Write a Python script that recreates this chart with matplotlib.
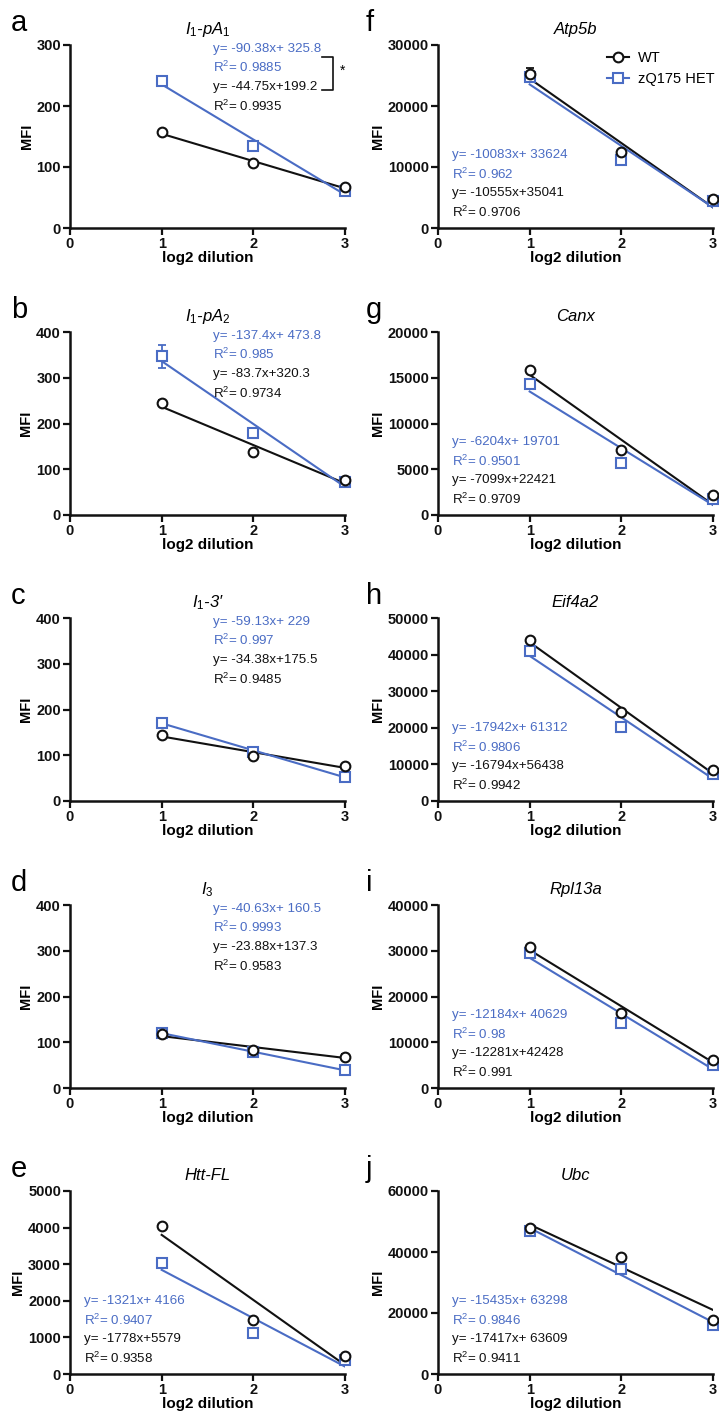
import matplotlib
matplotlib.use('Agg')
import matplotlib.pyplot as plt
from matplotlib.lines import Line2D
import numpy as np

plt.rcParams['font.family'] = ['Liberation Sans', 'DejaVu Sans']
plt.rcParams['mathtext.fontset'] = 'custom'
plt.rcParams['mathtext.rm'] = 'Liberation Sans'
plt.rcParams['mathtext.it'] = 'Liberation Sans:italic'
plt.rcParams['mathtext.bf'] = 'Liberation Sans:bold'

# ============================================
# DATA
# ============================================
dilution = [1, 2, 3]

letters = ['a', 'b', 'c', 'd', 'e', 'f', 'g', 'h', 'i', 'j']
genes = [r'$I_1$-$pA_1$', r'$I_1$-$pA_2$', r'$I_1$-3′', r'$I_3$', 'Htt-FL',
         'Atp5b', 'Canx', 'Eif4a2', 'Rpl13a', 'Ubc']

wt_mean = [[157, 106, 67], [245, 137, 77], [145, 98, 77], [117, 84, 68],
           [4050, 1480, 500], [25200, 12500, 4800], [15900, 7100, 2200],
           [44000, 24300, 8600], [30800, 16500, 6100], [47800, 38300, 17800]]
wt_err = [[4, 0, 0], [7, 0, 0], [0, 0, 3], [0, 0, 7],
          [0, 0, 0], [1000, 0, 0], [0, 0, 0],
          [0, 0, 0], [0, 0, 0], [0, 0, 0]]
het_mean = [[241, 134, 60], [347, 180, 72], [171, 108, 53], [120, 79, 40],
            [3030, 1130, 380], [24700, 11100, 4500], [14300, 5700, 1700],
            [41000, 20200, 7300], [29400, 14200, 5100], [46800, 34400, 16000]]
het_err = [[6, 4, 0], [25, 0, 0], [0, 0, 0], [0, 0, 0],
           [0, 0, 0], [0, 0, 0], [0, 0, 0],
           [0, 0, 0], [0, 0, 0], [0, 0, 0]]

# fitted lines as drawn (slope, intercept)
wt_slope = [-44.75, -83.7, -34.38, -23.88, -1778, -10555, -7099, -17942, -12281, -14000]
wt_icpt = [199.2, 320.3, 175.5, 137.3, 5579, 35041, 22421, 61312, 42428, 63000]
het_slope = [-90.38, -137.4, -59.13, -40.63, -1321, -10083, -6204, -16794, -12184, -15435]
het_icpt = [325.8, 473.8, 229, 160.5, 4166, 33624, 19701, 56438, 40629, 63298]

het_eq = ['y= -90.38x+ 325.8', 'y= -137.4x+ 473.8', 'y= -59.13x+ 229',
          'y= -40.63x+ 160.5', 'y= -1321x+ 4166', 'y= -10083x+ 33624',
          'y= -6204x+ 19701', 'y= -17942x+ 61312', 'y= -12184x+ 40629',
          'y= -15435x+ 63298']
het_r2 = ['0.9885', '0.985', '0.997', '0.9993', '0.9407', '0.962',
          '0.9501', '0.9806', '0.98', '0.9846']
wt_eq = ['y= -44.75x+199.2', 'y= -83.7x+320.3', 'y= -34.38x+175.5',
         'y= -23.88x+137.3', 'y= -1778x+5579', 'y= -10555x+35041',
         'y= -7099x+22421', 'y= -16794x+56438', 'y= -12281x+42428',
         'y= -17417x+ 63609']
wt_r2 = ['0.9935', '0.9734', '0.9485', '0.9583', '0.9358', '0.9706',
         '0.9709', '0.9942', '0.991', '0.9411']

y_max = [300, 400, 400, 400, 5000, 30000, 20000, 50000, 40000, 60000]
y_step = [100, 100, 100, 100, 1000, 10000, 5000, 10000, 10000, 20000]
eq_top = [True, True, True, True, False, False, False, False, False, False]

BLUE = '#4a6cc4'
BLACK = '#111111'

# ============================================
# LAYOUT (pixels)
# ============================================
W, H = 719, 1414
fig = plt.figure(figsize=(W / 100, H / 100), dpi=100)

col_left = [70, 438]
col_width = 275
row_top = [45, 332, 618, 905, 1191]
row_bot = [228, 515, 801, 1088, 1374]

for k in range(10):
    col = k // 5
    row = k % 5
    left = col_left[col]
    top, bot = row_top[row], row_bot[row]
    ax = fig.add_axes([left / W, 1 - bot / H, col_width / W, (bot - top) / H])

    x = np.array([1, 3])
    ax.plot(x, wt_slope[k] * x + wt_icpt[k], color=BLACK, lw=1.5, zorder=2)
    ax.plot(x, het_slope[k] * x + het_icpt[k], color=BLUE, lw=1.5, zorder=2)

    # error bars under the open markers
    ax.errorbar(dilution, het_mean[k], yerr=het_err[k], fmt='none',
                ecolor=BLUE, elinewidth=1.3, capsize=3, capthick=1.3,
                clip_on=False, zorder=2.5)
    ax.errorbar(dilution, wt_mean[k], yerr=wt_err[k], fmt='none',
                ecolor=BLACK, elinewidth=1.3, capsize=3, capthick=1.3,
                clip_on=False, zorder=2.6)
    ax.plot(dilution, het_mean[k], 's', ms=6.5, mfc='white', mec=BLUE,
            mew=1.5, clip_on=False, zorder=3)
    ax.plot(dilution, wt_mean[k], 'o', ms=7, mfc='white', mec=BLACK,
            mew=1.5, clip_on=False, zorder=4)

    ax.set_xlim(0, 3)
    ax.set_ylim(0, y_max[k])
    ax.set_xticks([0, 1, 2, 3])
    ax.set_yticks(np.arange(0, y_max[k] + 1, y_step[k]))
    for s in ['top', 'right']:
        ax.spines[s].set_visible(False)
    for s in ['left', 'bottom']:
        ax.spines[s].set_linewidth(1.8)
        ax.spines[s].set_color(BLACK)
    ax.tick_params(width=1.6, length=5, pad=1.5, labelsize=10.5, colors=BLACK)
    for lab in ax.get_xticklabels() + ax.get_yticklabels():
        lab.set_fontweight('bold')
    ax.set_xlabel('log2 dilution', fontsize=11, fontweight='bold', labelpad=0)
    ax.set_ylabel('MFI', fontsize=10.5, fontweight='bold', labelpad=2)

    ax.set_title(genes[k], fontsize=12, style='italic', pad=8)
    fig.text((11 if col == 0 else 366) / W, 1 - (top - 22) / H, letters[k],
             fontsize=21, va='center', ha='left')

    if eq_top[k]:
        tx, ys = 0.52, [0.98, 0.875, 0.77, 0.665]
    else:
        tx, ys = 0.05, [0.40, 0.295, 0.19, 0.085]
    ax.text(tx, ys[0], het_eq[k], transform=ax.transAxes, color=BLUE,
            fontsize=9.6, va='center')
    ax.text(tx, ys[1], r'R$^2$= ' + het_r2[k], transform=ax.transAxes,
            color=BLUE, fontsize=9.6, va='center')
    ax.text(tx, ys[2], wt_eq[k], transform=ax.transAxes, color=BLACK,
            fontsize=9.6, va='center')
    ax.text(tx, ys[3], r'R$^2$= ' + wt_r2[k], transform=ax.transAxes,
            color=BLACK, fontsize=9.6, va='center')

    if k == 0:
        # significance bracket
        ax.plot([0.916, 0.956, 0.956, 0.916], [0.934, 0.934, 0.754, 0.754],
                transform=ax.transAxes, color=BLACK, lw=1.2, clip_on=False)
        ax.text(0.99, 0.86, '*', transform=ax.transAxes, fontsize=10,
                ha='center', va='center')
    if k == 5:
        handles = [Line2D([], [], color=BLACK, lw=1.5, marker='o', ms=7,
                          mfc='white', mec=BLACK, mew=1.5),
                   Line2D([], [], color=BLUE, lw=1.5, marker='s', ms=6.5,
                          mfc='white', mec=BLUE, mew=1.5)]
        ax.legend(handles, ['WT', 'zQ175 HET'], loc='upper left',
                  bbox_to_anchor=(0.615, 0.965), frameon=False, fontsize=10.5,
                  borderaxespad=0, borderpad=0, handlelength=1.5,
                  handletextpad=0.6, labelspacing=0.45)

fig.savefig('out.png', dpi=100)
